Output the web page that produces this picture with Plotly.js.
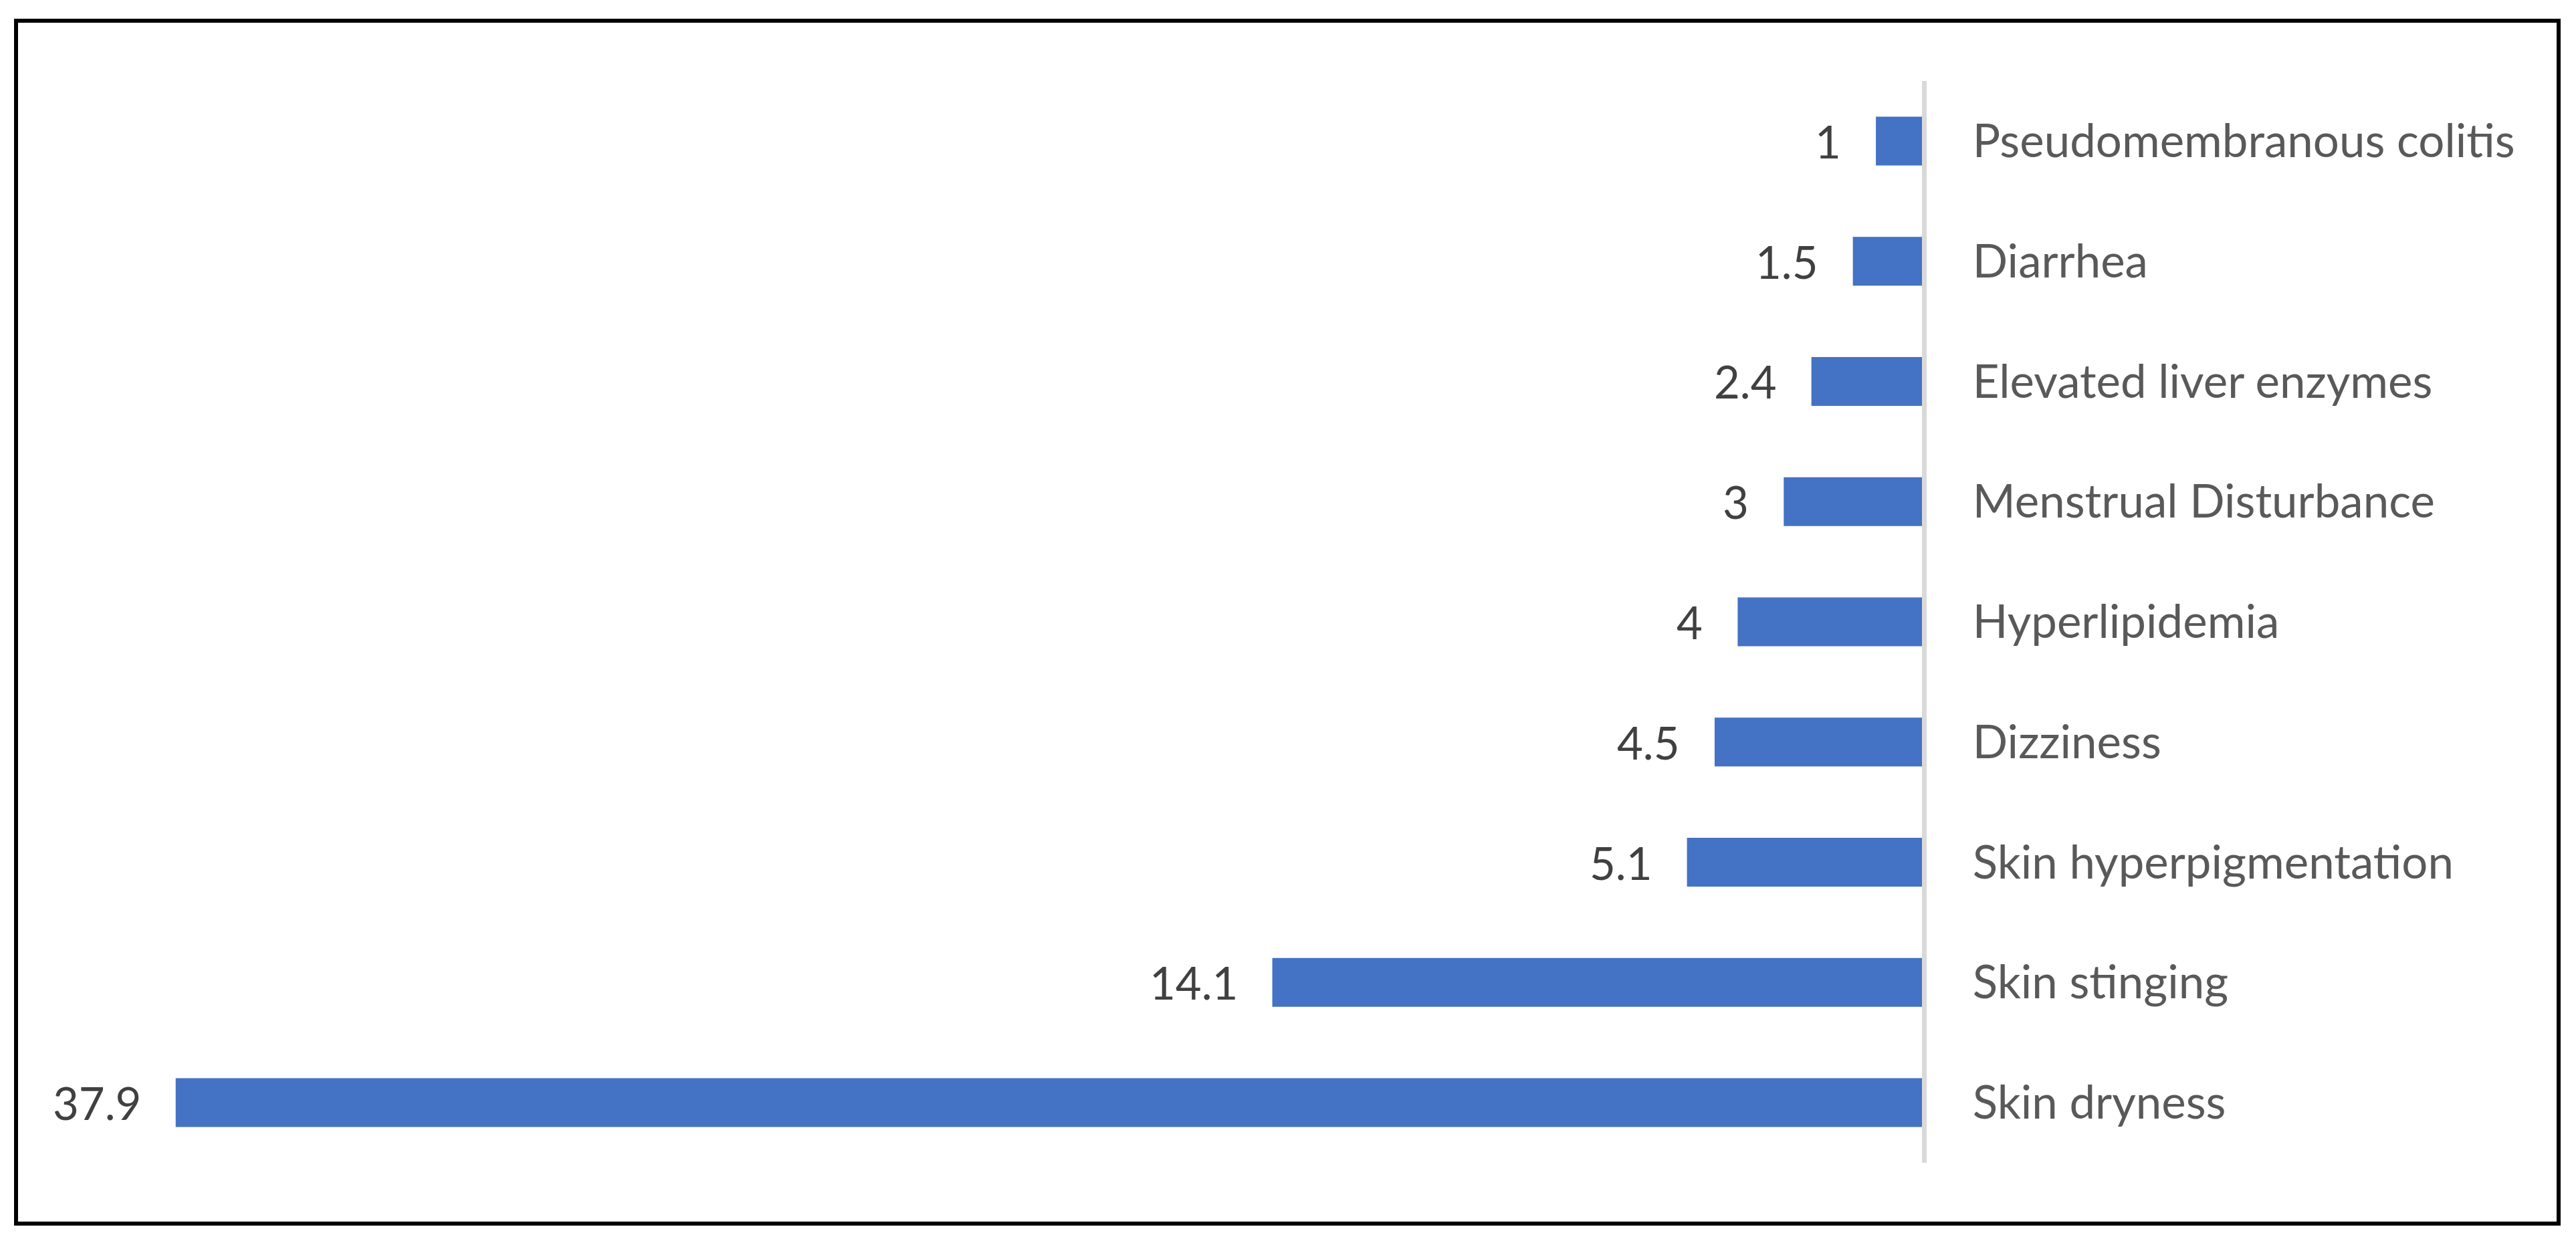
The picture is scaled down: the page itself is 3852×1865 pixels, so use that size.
<!DOCTYPE html>
<html>
<head>
<meta charset="utf-8">
<script src="https://cdn.plot.ly/plotly-3.0.1.min.js"></script>
<style>
  html, body { margin: 0; padding: 0; background: #fff; }
  #wrap { position: relative; width: 3852px; height: 1865px; }
  #chart { position: absolute; left: 0; top: 0; width: 3852px; height: 1865px; }
  #frame { position: absolute; left: 21px; top: 28px; width: 3808px; height: 1805px;
           border: 6px solid #000; box-sizing: border-box; pointer-events: none; }
</style>
</head>
<body>
<div id="wrap">
  <div id="chart"></div>
  <div id="frame"></div>
</div>
<script>
// Categories listed top to bottom as in the reference
const categories = [
  "Pseudomembranous colitis",
  "Diarrhea",
  "Elevated liver enzymes",
  "Menstrual Disturbance",
  "Hyperlipidemia",
  "Dizziness",
  "Skin hyperpigmentation",
  "Skin stinging",
  "Skin dryness"
];
const values = [1, 1.5, 2.4, 3, 4, 4.5, 5.1, 14.1, 37.9];
const valueLabels = ["1", "1.5", "2.4", "3", "4", "4.5", "5.1", "14.1", "37.9"];

const FONT = "Lato, 'Noto Sans', sans-serif";

const trace = {
  type: "bar",
  orientation: "h",
  x: values,
  y: categories,
  marker: { color: "#4472C4", line: { width: 0 } },
  width: 0.406,
  hoverinfo: "skip"
};

const annotations = categories.map((c, i) => ({
  x: values[i],
  y: c,
  xref: "x",
  yref: "y",
  text: valueLabels[i],
  showarrow: false,
  xanchor: "right",
  yanchor: "middle",
  xshift: -50,
  font: { family: FONT, size: 67, color: "#404040" }
}));

const layout = {
  width: 3852,
  height: 1865,
  margin: { l: 118, r: 978, t: 121, b: 126, pad: 0 },
  paper_bgcolor: "#ffffff",
  plot_bgcolor: "#ffffff",
  showlegend: false,
  bargap: 0.594,
  xaxis: {
    range: [40, 0],
    showgrid: false,
    zeroline: false,
    showline: false,
    showticklabels: false,
    ticks: ""
  },
  yaxis: {
    type: "category",
    side: "right",
    range: [8.5, -0.5],
    showgrid: false,
    zeroline: false,
    showline: true,
    linecolor: "#D9D9D9",
    linewidth: 7,
    ticks: "",
    ticklabelstandoff: 55,
    tickfont: { family: FONT, size: 69, color: "#595959" }
  },
  annotations: annotations
};

Plotly.newPlot("chart", [trace], layout, { staticPlot: true, displayModeBar: false });
</script>
</body>
</html>
